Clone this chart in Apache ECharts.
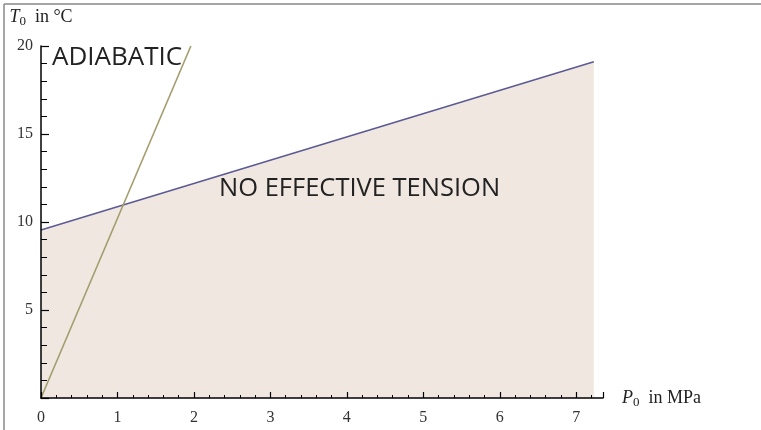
<!DOCTYPE html>
<html>
<head>
<meta charset="utf-8">
<script src="https://cdn.jsdelivr.net/npm/echarts@6/dist/echarts.min.js"></script>
<style>
  html, body { margin: 0; padding: 0; background: #fff; }
  #main { width: 761px; height: 430px; }
</style>
</head>
<body>
<div id="main"></div>
<script>
// P0 in MPa -> T0 in °C
var tensionP = [0, 7.23]
var tensionT = [9.55, 19.1]
var adiabaticP = [0, 1.96]
var adiabaticT = [0, 20]

var chart = echarts.init(document.getElementById('main'))

var serif = 'Liberation Serif'
var sans = 'Open Sans'

function pairs(xs, ys) {
  return xs.map(function (x, i) { return [x, ys[i]] })
}

// rich styles for the italic symbol with subscript 0
var nameRich = {
  i: { fontFamily: serif, fontStyle: 'italic', fontSize: 18, color: '#222' },
  s: { fontFamily: serif, fontSize: 13, color: '#222', verticalAlign: 'bottom', padding: [9, 0, 0, 0] },
  t: { fontFamily: serif, fontSize: 18, color: '#222' }
}

var option = {
  backgroundColor: '#fff',
  animation: false,
  grid: { left: 41, right: 158, top: 46, bottom: 32 },
  xAxis: {
    type: 'value',
    min: 0,
    max: 7.35,
    interval: 1,
    z: 10,
    name: '{i|P}{s|0}{t|  in MPa}',
    nameLocation: 'end',
    nameGap: 19,
    nameTextStyle: { rich: nameRich },
    axisLine: { onZero: false, lineStyle: { color: '#000', width: 1.5 } },
    axisTick: { inside: true, length: 6, lineStyle: { color: '#000', width: 1.2 } },
    minorTick: { show: true, splitNumber: 5, length: 3, lineStyle: { color: '#000', width: 1 } },
    axisLabel: { color: '#333', fontFamily: serif, fontSize: 16, margin: 12, showMaxLabel: false },
    splitLine: { show: false }
  },
  yAxis: {
    type: 'value',
    min: 0,
    max: 20,
    interval: 5,
    z: 10,
    name: '{i|T}{s|0}{t|  in °C}',
    nameLocation: 'end',
    nameGap: 18,
    nameTextStyle: { align: 'center', rich: nameRich },
    axisLine: { onZero: false, lineStyle: { color: '#000', width: 1.5 } },
    axisTick: { inside: true, length: 8, lineStyle: { color: '#000', width: 1.2 } },
    minorTick: { show: true, splitNumber: 5, length: 6, lineStyle: { color: '#000', width: 1 } },
    axisLabel: { color: '#333', fontFamily: serif, fontSize: 16, margin: 8, showMinLabel: false },
    splitLine: { show: false }
  },
  series: [
    {
      name: 'no effective tension',
      type: 'line',
      data: pairs(tensionP, tensionT),
      symbol: 'none',
      lineStyle: { color: '#5c5a94', width: 1.6 },
      areaStyle: { color: '#f0e7e1', opacity: 1 },
      z: 2
    },
    {
      name: 'adiabatic',
      type: 'line',
      data: pairs(adiabaticP, adiabaticT),
      symbol: 'none',
      clip: false,
      lineStyle: { color: '#a39d6e', width: 1.6 },
      z: 3
    }
  ],
  graphic: [
    { type: 'line', shape: { x1: 4, y1: 4, x2: 761, y2: 4 }, style: { stroke: '#888', lineWidth: 1.5 } },
    { type: 'line', shape: { x1: 4, y1: 4, x2: 4, y2: 430 }, style: { stroke: '#888', lineWidth: 1.5 } },
    {
      type: 'text', x: 52, y: 58, z: 20,
      style: { text: 'ADIABATIC', fill: '#222', font: '26px "' + sans + '"', verticalAlign: 'middle', textVerticalAlign: 'middle' }
    },
    {
      type: 'text', x: 219, y: 189, z: 20,
      style: { text: 'NO EFFECTIVE TENSION', fill: '#222', font: '25.5px "' + sans + '"', verticalAlign: 'middle', textVerticalAlign: 'middle' }
    }
  ]
}

chart.setOption(option)
</script>
</body>
</html>
